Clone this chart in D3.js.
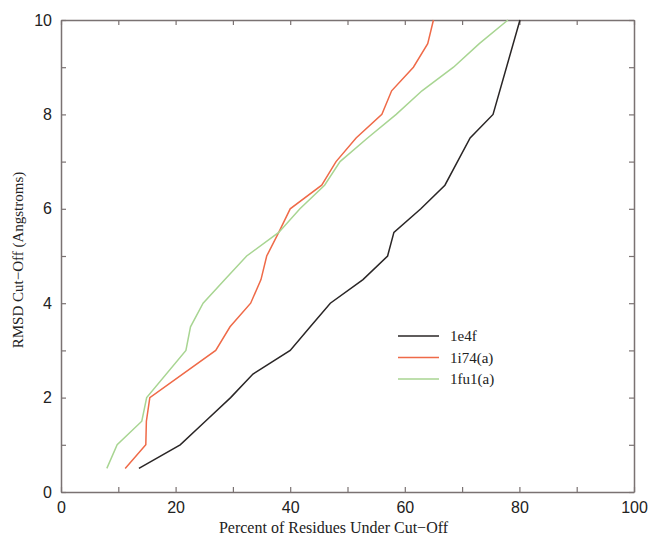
<!DOCTYPE html>
<html>
<head>
<meta charset="utf-8">
<script src="https://cdn.jsdelivr.net/npm/d3@7"></script>
<style>
  body { margin: 0; background: #fff; }
  .tick text { font-family: "Liberation Sans", Arial, sans-serif; font-size: 16px; fill: #222; }
  .axis-label { font-family: "Liberation Serif", "Times New Roman", serif; font-size: 16px; fill: #222; }
  .legend text { font-family: "Liberation Serif", "Times New Roman", serif; font-size: 15px; fill: #222; }
</style>
</head>
<body>
<div id="chart"></div>
<script>
// 1: DATA
const seriesNames = ["1e4f", "1i74(a)", "1fu1(a)"];
const seriesColors = ["#2a2626", "#ef6a48", "#a8d592"];

const x1e4f = [13.6, 20.8, 25.2, 29.6, 33.5, 40.0, 43.5, 47.0, 52.7, 57.0, 58.1, 62.8, 67.0, 71.4, 75.4, 80.1];
const y1e4f = [0.5, 1.0, 1.5, 2.0, 2.5, 3.0, 3.5, 4.0, 4.5, 5.0, 5.5, 6.0, 6.5, 7.5, 8.0, 10.0];

const x1i74 = [11.2, 14.8, 14.9, 15.5, 27.0, 29.5, 33.1, 34.9, 35.9, 38.0, 40.0, 45.5, 48.0, 51.5, 56.0, 57.7, 61.5, 64.0, 65.0];
const y1i74 = [0.5, 1.0, 1.5, 2.0, 3.0, 3.5, 4.0, 4.5, 5.0, 5.5, 6.0, 6.5, 7.0, 7.5, 8.0, 8.5, 9.0, 9.5, 10.0];

const x1fu1 = [8.0, 9.8, 14.1, 14.95, 21.8, 22.6, 24.8, 28.6, 32.4, 38.0, 41.7, 46.0, 48.7, 53.5, 58.5, 63.0, 68.5, 73.0, 78.0];
const y1fu1 = [0.5, 1.0, 1.5, 2.0, 3.0, 3.5, 4.0, 4.5, 5.0, 5.5, 6.0, 6.5, 7.0, 7.5, 8.0, 8.5, 9.0, 9.5, 10.0];

const xTicks = [0, 20, 40, 60, 80, 100];
const xMinor = [10, 30, 50, 70, 90];
const yTicks = [0, 2, 4, 6, 8, 10];
const yMinor = [1, 3, 5, 7, 9];

const series = [
    { name: seriesNames[0], color: seriesColors[0], pts: x1e4f.map((x, i) => [x, y1e4f[i]]) },
    { name: seriesNames[1], color: seriesColors[1], pts: x1i74.map((x, i) => [x, y1i74[i]]) },
    { name: seriesNames[2], color: seriesColors[2], pts: x1fu1.map((x, i) => [x, y1fu1[i]]) }
];

// 2: LAYOUT
const margin = { top: 20, right: 15, bottom: 44, left: 61 };
const W = 649, H = 536;
const width = W - margin.left - margin.right;
const height = H - margin.top - margin.bottom;
const frameColor = "#7a7272";

const svg = d3.select("#chart").append("svg")
    .attr("width", W)
    .attr("height", H)
    .append("g")
    .attr("transform", `translate(${margin.left},${margin.top})`);

// 3: SCALES
const xScale = d3.scaleLinear().domain([0, 100]).range([0, width]);
const yScale = d3.scaleLinear().domain([0, 10]).range([height, 0]);

// 4: AXES (inward ticks on all four sides)
const tickLen = 5;
function styleAxis(g) {
    g.selectAll(".domain").attr("stroke", frameColor).attr("stroke-width", 1.5);
    g.selectAll(".tick line").attr("stroke", frameColor).attr("stroke-width", 1.2);
}

svg.append("g")
    .attr("transform", `translate(0,${height})`)
    .call(d3.axisBottom(xScale).tickValues(xTicks.concat(xMinor)).tickSizeInner(-tickLen).tickSizeOuter(0)
        .tickPadding(10).tickFormat(d => xTicks.includes(d) ? d : ""))
    .call(styleAxis);

svg.append("g")
    .call(d3.axisTop(xScale).tickValues(xTicks.concat(xMinor)).tickSizeInner(-tickLen).tickSizeOuter(0).tickFormat(""))
    .call(styleAxis);

svg.append("g")
    .call(d3.axisLeft(yScale).tickValues(yTicks.concat(yMinor)).tickSizeInner(-tickLen).tickSizeOuter(0)
        .tickPadding(9).tickFormat(d => yTicks.includes(d) ? d : ""))
    .call(styleAxis);

svg.append("g")
    .attr("transform", `translate(${width},0)`)
    .call(d3.axisRight(yScale).tickValues(yTicks.concat(yMinor)).tickSizeInner(-tickLen).tickSizeOuter(0).tickFormat(""))
    .call(styleAxis);

// 5: LINES
const line = d3.line()
    .x(d => xScale(d[0]))
    .y(d => yScale(d[1]));

svg.selectAll(".series")
    .data(series)
    .join("path")
    .attr("class", "series")
    .attr("d", d => line(d.pts))
    .attr("fill", "none")
    .attr("stroke", d => d.color)
    .attr("stroke-width", 1.5);

// 6: LABELS
svg.append("text")
    .attr("class", "axis-label")
    .attr("x", width / 2 - 14)
    .attr("y", height + 41)
    .attr("text-anchor", "middle")
    .text("Percent of Residues Under Cut\u2212Off");

svg.append("text")
    .attr("class", "axis-label")
    .attr("transform", "rotate(-90)")
    .attr("x", -height / 2 - 4)
    .attr("y", -38)
    .attr("text-anchor", "middle")
    .style("font-size", "15px")
    .text("RMSD Cut\u2212Off (Angstroms)");

// 7: LEGEND
const legend = svg.append("g")
    .attr("class", "legend")
    .attr("transform", `translate(${398 - margin.left},${336 - margin.top})`);

const rows = legend.selectAll("g")
    .data(series)
    .join("g")
    .attr("transform", (d, i) => `translate(0,${i * 21.5})`);

rows.append("line")
    .attr("x1", 0).attr("x2", 41)
    .attr("stroke", d => d.color)
    .attr("stroke-width", 1.5);

rows.append("text")
    .attr("x", 52)
    .attr("y", 5)
    .text(d => d.name);
</script>
</body>
</html>
